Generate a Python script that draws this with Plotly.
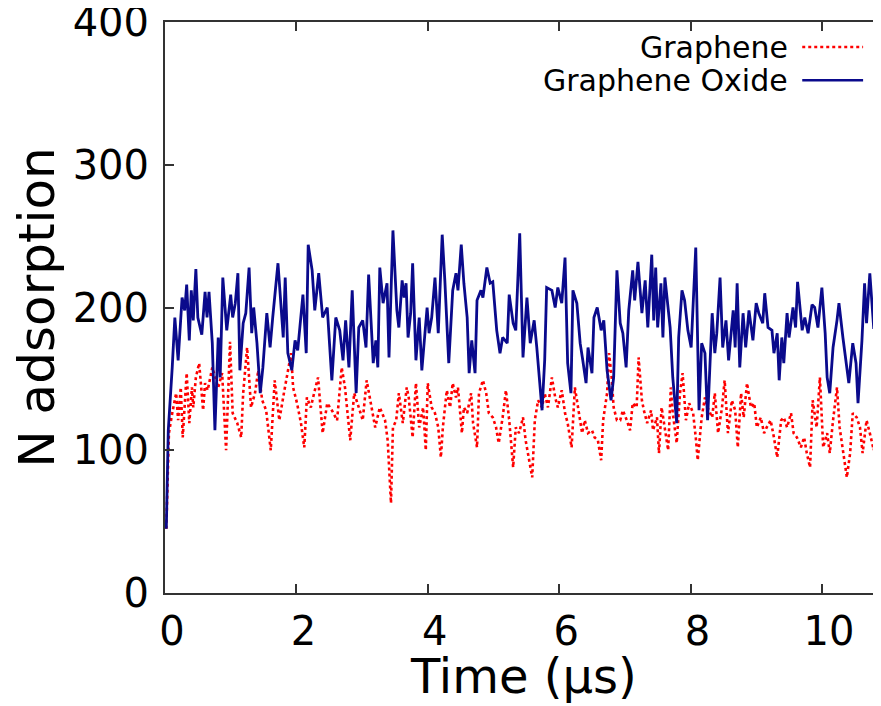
import plotly.graph_objects as go

# Graphene Oxide (solid blue)
go_time = [0.02, 0.05, 0.11, 0.15, 0.20, 0.26, 0.30, 0.33, 0.37, 0.40, 0.43, 0.47, 0.50, 0.56, 0.61, 0.64, 0.67, 0.72,
           0.76, 0.81, 0.84, 0.88, 0.94, 1.00, 1.03, 1.07, 1.11, 1.14, 1.19, 1.23, 1.28, 1.32, 1.35, 1.40, 1.45, 1.49,
           1.55, 1.60, 1.64, 1.72, 1.80, 1.83, 1.87, 1.93, 1.98, 2.02, 2.10, 2.15, 2.18, 2.24, 2.28, 2.34, 2.40, 2.47,
           2.54, 2.60, 2.66, 2.71, 2.75, 2.80, 2.85, 2.91, 2.95, 3.01, 3.06, 3.10, 3.17, 3.21, 3.24, 3.27, 3.32, 3.38,
           3.41, 3.47, 3.53, 3.56, 3.61, 3.64, 3.67, 3.70, 3.74, 3.77, 3.82, 3.87, 3.91, 3.94, 3.99, 4.02, 4.06, 4.11,
           4.16, 4.22, 4.26, 4.32, 4.38, 4.43, 4.46, 4.51, 4.55, 4.60, 4.63, 4.67, 4.72, 4.75, 4.81, 4.84, 4.90, 4.95,
           4.99, 5.05, 5.10, 5.14, 5.21, 5.24, 5.30, 5.34, 5.40, 5.45, 5.51, 5.56, 5.62, 5.66, 5.74, 5.78, 5.81, 5.89,
           5.94, 5.98, 6.04, 6.09, 6.13, 6.18, 6.21, 6.27, 6.32, 6.36, 6.41, 6.44, 6.50, 6.53, 6.58, 6.64, 6.68, 6.73,
           6.79, 6.83, 6.88, 6.93, 6.97, 7.02, 7.06, 7.12, 7.15, 7.20, 7.26, 7.31, 7.35, 7.41, 7.44, 7.47, 7.50, 7.55,
           7.58, 7.61, 7.64, 7.69, 7.73, 7.79, 7.82, 7.87, 7.91, 7.96, 8.01, 8.04, 8.08, 8.13, 8.17, 8.22, 8.26, 8.33,
           8.37, 8.40, 8.45, 8.49, 8.54, 8.58, 8.65, 8.68, 8.71, 8.75, 8.80, 8.84, 8.89, 8.95, 9.00, 9.04, 9.10, 9.13,
           9.18, 9.24, 9.27, 9.32, 9.35, 9.39, 9.42, 9.47, 9.50, 9.56, 9.60, 9.63, 9.70, 9.74, 9.79, 9.85, 9.89, 9.94,
           10.00, 10.05, 10.08, 10.12, 10.17, 10.23, 10.26, 10.32, 10.37, 10.41, 10.47, 10.52, 10.55, 10.61, 10.65,
           10.68, 10.73, 10.79, 10.85, 10.90]
go_value = [45, 114, 158, 193, 163, 207, 198, 216, 177, 212, 191, 227, 193, 181, 211, 193, 211, 175,
            114, 179, 151, 221, 184, 209, 193, 203, 224, 156, 189, 196, 228, 182, 200, 175, 140, 158,
            196, 172, 193, 231, 179, 221, 168, 156, 177, 170, 209, 168, 244, 226, 198, 224, 193, 200,
            149, 193, 184, 163, 191, 158, 212, 140, 186, 191, 172, 223, 161, 177, 158, 228, 203, 217,
            165, 254, 198, 186, 219, 207, 217, 179, 196, 231, 163, 193, 156, 175, 200, 182, 193, 221,
            182, 251, 219, 161, 212, 224, 212, 244, 217, 193, 154, 177, 154, 205, 212, 207, 228, 217,
            218, 184, 168, 179, 175, 209, 189, 184, 252, 165, 207, 175, 191, 172, 128, 163, 214, 212,
            200, 214, 203, 235, 161, 140, 212, 203, 175, 163, 147, 172, 154, 193, 200, 184, 191, 156,
            135, 151, 226, 189, 182, 158, 198, 226, 205, 232, 196, 219, 186, 237, 191, 228, 186, 217,
            179, 221, 207, 186, 151, 119, 179, 212, 205, 184, 172, 203, 242, 128, 175, 168, 121, 196,
            168, 182, 221, 172, 191, 163, 198, 172, 217, 158, 196, 172, 198, 177, 203, 196, 189, 210,
            186, 184, 168, 182, 149, 179, 161, 196, 179, 200, 186, 218, 184, 193, 182, 202, 200, 186,
            214, 182, 151, 140, 172, 191, 203, 179, 163, 147, 175, 161, 133, 177, 217,
            189, 224, 185, 205, 195]

# Graphene (dotted red)
gr_time = [0.02, 0.06, 0.11, 0.17, 0.20, 0.24, 0.27, 0.33, 0.37, 0.41, 0.43, 0.47, 0.52, 0.58, 0.61, 0.65, 0.72,
           0.76, 0.81, 0.87, 0.93, 0.99, 1.03, 1.10, 1.16, 1.19, 1.25, 1.31, 1.37, 1.42, 1.48, 1.54, 1.61, 1.67,
           1.74, 1.81, 1.87, 1.92, 1.95, 2.01, 2.07, 2.12, 2.16, 2.22, 2.27, 2.33, 2.40, 2.47, 2.54, 2.62, 2.69,
           2.74, 2.82, 2.88, 2.95, 3.01, 3.07, 3.14, 3.20, 3.27, 3.35, 3.39, 3.44, 3.47, 3.52, 3.56, 3.62, 3.68,
           3.71, 3.77, 3.82, 3.87, 3.93, 3.97, 4.00, 4.06, 4.11, 4.16, 4.20, 4.23, 4.29, 4.34, 4.38, 4.43, 4.46,
           4.52, 4.55, 4.60, 4.66, 4.69, 4.75, 4.78, 4.84, 4.89, 4.93, 4.99, 5.04, 5.08, 5.14, 5.19, 5.24, 5.30,
           5.34, 5.39, 5.45, 5.49, 5.54, 5.59, 5.63, 5.68, 5.74, 5.78, 5.83, 5.89, 5.94, 5.98, 6.04, 6.09, 6.13,
           6.19, 6.24, 6.29, 6.35, 6.39, 6.44, 6.50, 6.54, 6.59, 6.64, 6.67, 6.73, 6.76, 6.80, 6.83, 6.88, 6.93,
           6.97, 7.03, 7.08, 7.12, 7.18, 7.21, 7.26, 7.29, 7.34, 7.40, 7.43, 7.49, 7.52, 7.56, 7.61, 7.66, 7.70,
           7.73, 7.79, 7.84, 7.88, 7.93, 7.98, 8.04, 8.08, 8.11, 8.17, 8.22, 8.26, 8.33, 8.37, 8.42, 8.48, 8.52,
           8.57, 8.63, 8.68, 8.72, 8.77, 8.81, 8.86, 8.92, 8.97, 9.01, 9.07, 9.12, 9.16, 9.22, 9.27, 9.32, 9.38,
           9.42, 9.47, 9.53, 9.57, 9.62, 9.68, 9.73, 9.77, 9.82, 9.86, 9.92, 9.97, 10.02, 10.08, 10.12, 10.17,
           10.23, 10.27, 10.32, 10.38, 10.43, 10.47, 10.53, 10.58, 10.62, 10.68, 10.73, 10.79, 10.85, 10.90]
gr_value = [45, 112, 126, 140, 121, 144, 109, 154, 119, 144, 130, 151, 161, 128, 147, 142, 158,
            151, 144, 154, 100, 176, 126, 119, 109, 140, 172, 130, 140, 156, 135, 128, 100, 149,
            121, 140, 154, 168, 144, 133, 119, 102, 137, 130, 140, 151, 112, 133, 128, 121, 158,
            144, 107, 140, 130, 121, 149, 130, 116, 130, 121, 107, 63, 116, 121, 140, 119, 144,
            137, 109, 147, 116, 130, 100, 147, 130, 126, 116, 95, 116, 142, 130, 147, 137, 144,
            112, 130, 126, 140, 119, 102, 140, 149, 140, 126, 123, 116, 105, 123, 142, 121, 88,
            116, 112, 123, 107, 93, 81, 121, 135, 130, 140, 130, 151, 137, 130, 142, 126, 119,
            102, 144, 130, 112, 121, 112, 114, 109, 107, 93, 121, 140, 168, 151, 130, 121, 121,
            128, 121, 114, 133, 130, 165, 135, 128, 119, 128, 114, 123, 98, 130, 116, 100, 144,
            126, 105, 140, 154, 121, 133, 126, 109, 93, 123, 137, 130, 123, 140, 112, 130, 149,
            112, 135, 128, 102, 140, 123, 147, 130, 133, 116, 123, 112, 116, 121, 109, 95, 121,
            123, 116, 126, 112, 109, 102, 109, 98, 88, 135, 116, 151, 102, 112, 98, 121,
            144, 116, 100, 81, 98, 126, 123, 116, 98, 121, 112, 100, 115, 105]

x_ticks = [0, 2, 4, 6, 8, 10]
y_ticks = [0, 100, 200, 300, 400]

FONT = "DejaVu Sans"
RED = "#ff0000"
BLUE = "#0a0a8c"

fig = go.Figure()
fig.add_trace(go.Scatter(x=gr_time, y=gr_value, mode="lines", name="Graphene",
                         line=dict(color=RED, width=2.6, dash="dot")))
fig.add_trace(go.Scatter(x=go_time, y=go_value, mode="lines", name="Graphene Oxide",
                         line=dict(color=BLUE, width=2.8)))

# gnuplot style key: text on the left, line sample on the right
fig.add_annotation(x=0.873, y=0.956, xref="paper", yref="paper", text="Graphene",
                   showarrow=False, xanchor="right", yanchor="middle",
                   font=dict(family=FONT, size=30, color="black"))
fig.add_annotation(x=0.873, y=0.898, xref="paper", yref="paper", text="Graphene Oxide",
                   showarrow=False, xanchor="right", yanchor="middle",
                   font=dict(family=FONT, size=30, color="black"))
fig.add_shape(type="line", xref="paper", yref="paper", x0=0.890, x1=0.975, y0=0.956, y1=0.956,
              line=dict(color=RED, width=2.5, dash="dot"))
fig.add_shape(type="line", xref="paper", yref="paper", x0=0.890, x1=0.975, y0=0.898, y1=0.898,
              line=dict(color=BLUE, width=2.5))

# x axis title as an annotation so it sits exactly where gnuplot put it
fig.add_annotation(x=0.5, y=-0.146, xref="paper", yref="paper", text="Time (µs)",
                   showarrow=False, xanchor="center", yanchor="middle",
                   font=dict(family=FONT, size=48, color="black"))

# the page body has an 8px margin, so the figure is made 8px smaller on each offset side
fig.update_layout(
    width=873, height=698,
    margin=dict(l=157, r=0, t=14, b=113),
    paper_bgcolor="white", plot_bgcolor="white",
    showlegend=False,
    font=dict(family=FONT, color="black"),
)
fig.update_xaxes(
    range=[0, 10.9], tickvals=x_ticks, ticks="inside", ticklen=9, tickwidth=2, tickcolor="#333",
    showline=True, linecolor="#333", linewidth=2, mirror="ticks", showgrid=False, zeroline=False,
    tickfont=dict(family=FONT, size=40), ticklabelstandoff=2, ticklabelshift=7, automargin=False,
)
fig.update_yaxes(
    range=[0, 400], tickvals=y_ticks, ticks="inside", ticklen=9, tickwidth=2, tickcolor="#333",
    showline=True, linecolor="#333", linewidth=2, mirror=False, showgrid=False, zeroline=False,
    tickfont=dict(family=FONT, size=40), ticklabelstandoff=6, automargin=False,
    ticklabeloverflow="allow",
    title=dict(text="N adsorption", font=dict(family=FONT, size=50), standoff=12),
)

fig.write_html("out.html")
